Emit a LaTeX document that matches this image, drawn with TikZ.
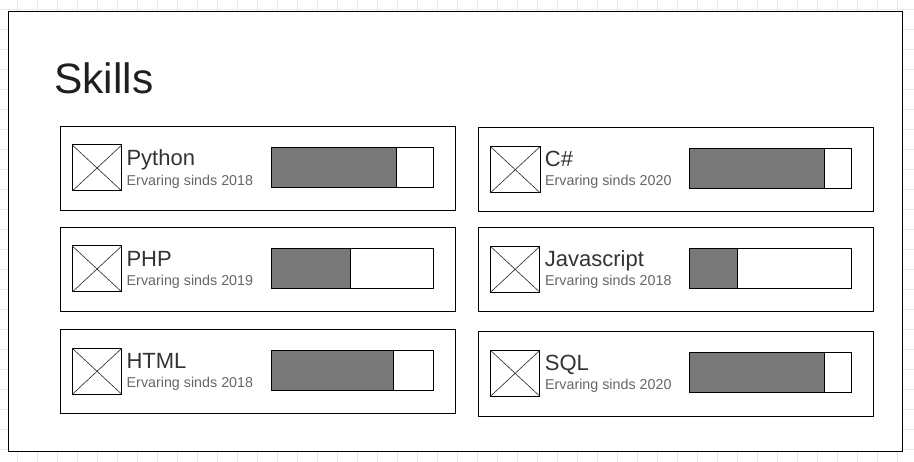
\documentclass[tikz,border=0pt]{standalone}
\usepackage{fontspec}
\setmainfont{Liberation Sans}
\definecolor{gridc}{HTML}{E8E8E8}
\definecolor{barfill}{HTML}{787878}
\definecolor{titlec}{HTML}{333333}
\definecolor{subc}{HTML}{666666}
\tikzset{
  card/.style={draw=black, line width=1pt, fill=white},
  iconbox/.style={draw=black, line width=1pt, fill=white},
  iconx/.style={draw=black!85, line width=0.6pt},
  barbox/.style={draw=black, line width=1pt, fill=white},
  barfillst/.style={fill=barfill},
  skilltitle/.style={anchor=base west, inner sep=0pt, text=titlec, font=\fontsize{22}{26}\selectfont, yshift=-1pt},
  skillsub/.style={anchor=base west, inner sep=0pt, text=subc, font=\fontsize{14.3}{17}\selectfont, yshift=-1pt},
}
\newcommand\skillicon[2]{%
  \draw[iconbox] (#1,#2) rectangle ++(49.5,46);
  \draw[iconx] (#1,#2) -- ++(49.5,46);
  \draw[iconx] (#1+49.5,#2) -- ++(-49.5,46);
}
\newcommand\skillbar[3]{%
  \fill[barfillst] (#1,#2) rectangle (#3,#2+40);
  \draw[barbox, fill=none] (#1,#2) rectangle ++(161.5,40);
  \draw[line width=1pt] (#3,#2) -- (#3,#2+40);
}
\begin{document}
\begin{tikzpicture}[x=1pt,y=-1pt]
\useasboundingbox (0,0) rectangle (914,462);
\fill[white] (0,0) rectangle (914,462);
% background grid
\foreach \k in {0,...,44} { \draw[gridc, line width=1pt] (17.3+20*\k,0) -- (17.3+20*\k,462); }
\foreach \k in {0,...,22} { \draw[gridc, line width=1pt] (0,9.3+20*\k) -- (914,9.3+20*\k); }
% frame
\draw[card] (8.8,12) rectangle (902.3,452);
\node[anchor=base west, inner sep=0pt, text=black!88, font=\fontsize{42.5}{48}\selectfont] (skills) at (54,94) {Skills};

% Python
\draw[card] (60.3,126.3) rectangle (455.7,210.7);
\skillicon{72.3}{145}
\skillbar{271.9}{147.3}{396.7}
\node[skilltitle] (t1) at (126.3,164.8) {Python};
\node[skillsub] (s1) at (126.5,184.3) {Ervaring sinds 2018};

% C#
\draw[card] (478.3,127.3) rectangle (873.7,212);
\skillicon{490.5}{146.7}
\skillbar{689.5}{148.3}{824.3}
\node[skilltitle] (t2) at (544.7,166) {C\#};
\node[skillsub] (s2) at (544.9,185) {Ervaring sinds 2020};

% PHP
\draw[card] (60.3,227.3) rectangle (455.3,311.7);
\skillicon{72.3}{246}
\skillbar{271.9}{248.3}{350.7}
\node[skilltitle] (t3) at (126.3,265.8) {PHP};
\node[skillsub] (s3) at (126.5,285) {Ervaring sinds 2019};

% Javascript
\draw[card] (478.3,227.3) rectangle (873.7,312);
\skillicon{490.4}{246.3}
\skillbar{689.5}{248.3}{737.7}
\node[skilltitle] (t4) at (544.7,266) {Javascript};
\node[skillsub] (s4) at (544.9,285) {Ervaring sinds 2018};

% HTML
\draw[card] (60.3,329.3) rectangle (455.3,414);
\skillicon{72.3}{348.3}
\skillbar{271.9}{350.3}{393.3}
\node[skilltitle] (t5) at (126.3,367.5) {HTML};
\node[skillsub] (s5) at (126.5,386.3) {Ervaring sinds 2018};

% SQL
\draw[card] (478.3,331.7) rectangle (873.7,416.3);
\skillicon{490.4}{350.3}
\skillbar{689.5}{352.3}{824.3}
\node[skilltitle] (t6) at (544.7,369.5) {SQL};
\node[skillsub] (s6) at (544.9,388.5) {Ervaring sinds 2020};
\end{tikzpicture}
\end{document}
